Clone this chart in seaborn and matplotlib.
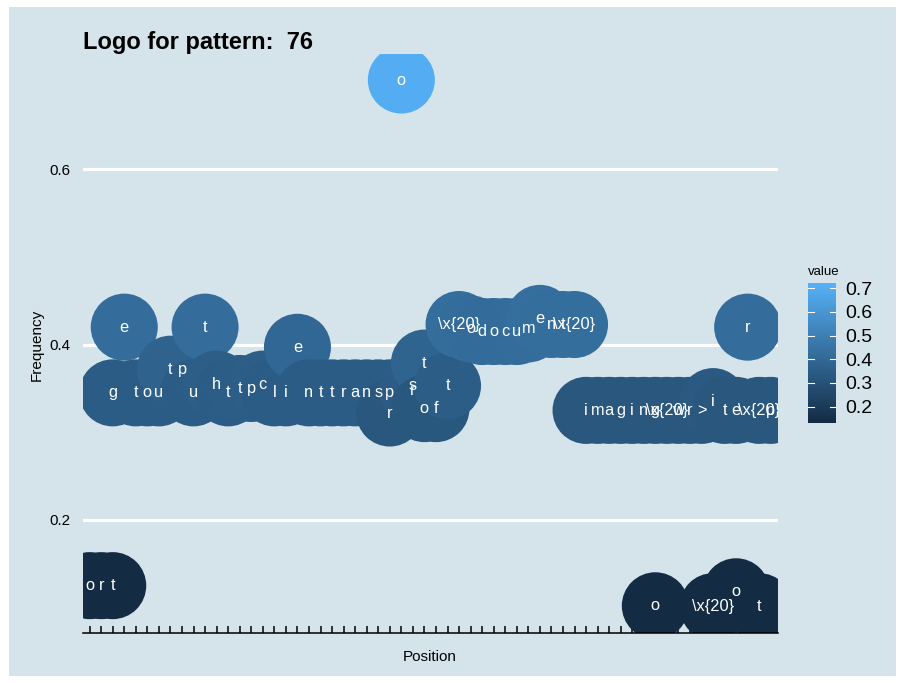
import numpy as np
import pandas as pd
import matplotlib
matplotlib.use('Agg')
import matplotlib.pyplot as plt
import seaborn as sns
from matplotlib.colors import LinearSegmentedColormap, Normalize
from matplotlib.patches import Rectangle
import matplotlib.cm as cm

# Dados do logo (posicao, caractere, frequencia)
posicao = [1, 2, 3, 3, 4, 5, 6, 7, 8, 9, 10, 11, 12, 13, 14, 15, 16, 17, 18, 19,
           20, 21, 22, 23, 24, 25, 26, 27, 27, 28, 29, 29, 30, 30, 31, 32,
           33, 34, 35, 36, 37, 38, 39, 40, 41, 42, 43,
           44, 45, 46, 47, 48, 49, 50, 50, 51, 52, 53, 54, 55, 55, 56, 57, 57,
           58, 59, 59, 60]
caractere = ['o', 'r', 't', 'g', 'e', 't', 'o', 'u', 't', 'p', 'u', 't', 'h', 't', 't', 'p', 'c', 'l', 'i', 'e',
             'n', 't', 't', 'r', 'a', 'n', 's', 'p', 'r', 'o', 's', 'r', 't', 'o', 'f', 't',
             '\\x{20}', 'o', 'd', 'o', 'c', 'u', 'm', 'e', 'n', 't', '\\x{20}',
             'i', 'm', 'a', 'g', 'i', 'n', 'g', 'o', '\\x{20}', 'w', 'r', '>', 'i', '\\x{20}', 't', 'e', 'o',
             'r', '\\x{20}', 't', 'p']
frequencia = [0.125, 0.125, 0.125, 0.345, 0.42, 0.345, 0.345, 0.345, 0.372, 0.372, 0.345, 0.42, 0.355, 0.345,
              0.35, 0.35, 0.355, 0.345, 0.345, 0.397,
              0.345, 0.345, 0.345, 0.345, 0.345, 0.345, 0.345, 0.345, 0.322, 0.702, 0.353, 0.348, 0.379, 0.327,
              0.327, 0.353,
              0.423, 0.418, 0.415, 0.415, 0.415, 0.415, 0.418, 0.43, 0.423, 0.423, 0.423,
              0.325, 0.325, 0.325, 0.325, 0.325, 0.325, 0.325, 0.102, 0.325, 0.325, 0.325, 0.325, 0.335, 0.101,
              0.325, 0.325, 0.118,
              0.42, 0.325, 0.101, 0.325]
n_posicoes = 60
titulo = 'Logo for pattern:  76'

df = pd.DataFrame({'Position': posicao, 'Char': caractere, 'Frequency': frequencia})

fundo = '#d5e3ea'
cmap = LinearSegmentedColormap.from_list('gg', ['#132B43', '#56B1F7'])
norma = (0.13, 0.72)

fig = plt.figure(figsize=(9.05, 6.83), dpi=100)
fig.patch.set_facecolor('white')
fig.patches.append(Rectangle((9 / 905, 7 / 683), 887 / 905, 669 / 683, transform=fig.transFigure,
                             facecolor=fundo, edgecolor='none', zorder=-10))

ax = fig.add_axes([82.7 / 905, 50 / 683, 695 / 905, 579.3 / 683])
ax.set_facecolor('none')

sns.scatterplot(data=df, x='Position', y='Frequency', hue='Frequency', palette=cmap, hue_norm=norma,
                s=2330, linewidth=0, legend=False, ax=ax, zorder=3)

for _, row in df.iterrows():
    ax.text(row['Position'], row['Frequency'], row['Char'], color='white', ha='center', va='center',
            fontsize=11.8, family='Liberation Sans', clip_on=True, zorder=4)

lo, hi = df['Frequency'].min(), df['Frequency'].max()
pad = 0.05 * (hi - lo)
ax.set_ylim(lo - pad, hi + pad)
ax.set_xlim(0.4, n_posicoes + 0.6)
ax.set_xticks(range(1, n_posicoes + 1))
ax.set_xticklabels([])
ax.set_yticks([0.2, 0.4, 0.6])
ax.set_yticklabels(['0.2', '0.4', '0.6'], family='Liberation Sans', fontsize=10.9)
ax.grid(False)
ax.yaxis.grid(True, color='white', linewidth=2.3, zorder=0)
ax.set_axisbelow(True)
for s in ['top', 'right', 'left']:
    ax.spines[s].set_visible(False)
ax.spines['bottom'].set_color('black')
ax.spines['bottom'].set_linewidth(1.1)
ax.spines['bottom'].set_zorder(5)
ax.tick_params(axis='x', direction='in', length=5, width=1.1, color='black')
ax.tick_params(axis='y', length=0, pad=9)
ax.set_xlabel('')
ax.set_ylabel('')

fig.text(430 / 905, 1 - 657 / 683, 'Position', ha='center', va='center', fontsize=11, family='Liberation Sans')
fig.text(37 / 905, 1 - 345 / 683, 'Frequency', ha='center', va='center', rotation=90, fontsize=11,
         family='Liberation Sans')
fig.text(83 / 905, 1 - 49.3 / 683, titulo, ha='left', va='baseline', fontsize=17, fontweight='bold',
         family='Liberation Sans')

# Barra de cores
cax = fig.add_axes([808.3 / 905, (683 - 423.3) / 683, 27.4 / 905, 140 / 683])
sm = cm.ScalarMappable(norm=Normalize(*norma), cmap=cmap)
cb = fig.colorbar(sm, cax=cax)
cb.outline.set_visible(False)
cb.set_ticks([0.2, 0.3, 0.4, 0.5, 0.6, 0.7])
cb.set_ticklabels(['0.2', '0.3', '0.4', '0.5', '0.6', '0.7'])
cax.tick_params(axis='y', length=0, pad=7, labelsize=14)
for t in cax.get_yticklabels():
    t.set_family('Liberation Sans')
for v in [0.2, 0.3, 0.4, 0.5, 0.6, 0.7]:
    cax.plot([0, 0.2], [v, v], color='white', linewidth=0.8, transform=cax.get_yaxis_transform())
    cax.plot([0.8, 1], [v, v], color='white', linewidth=0.8, transform=cax.get_yaxis_transform())
fig.text(808 / 905, 1 - 272 / 683, 'value', ha='left', va='center', fontsize=9.5, family='Liberation Sans')

fig.savefig('out.png', dpi=100, facecolor='white')
